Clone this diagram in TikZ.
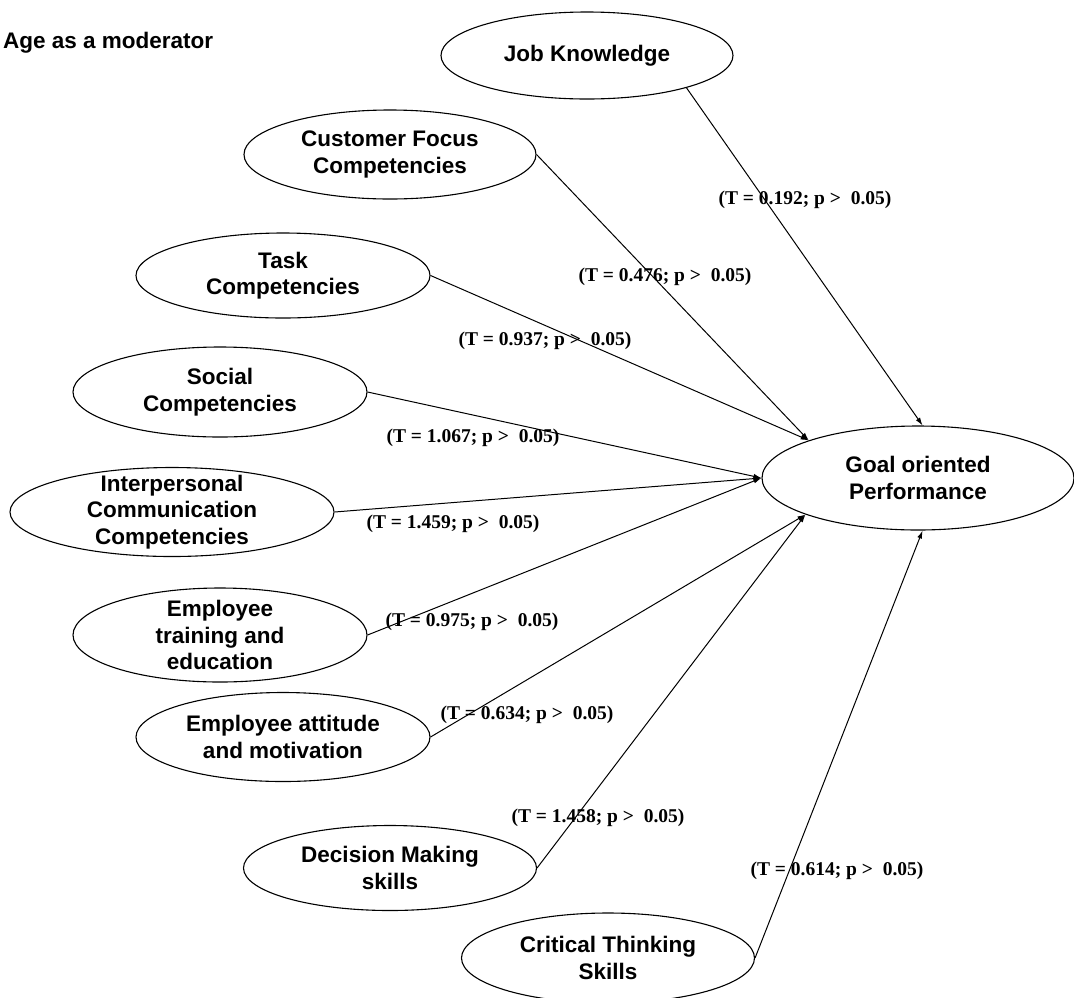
\documentclass[tikz,border=0pt]{standalone}
\usepackage{fontspec}
\setmainfont{Liberation Sans}
\newfontfamily\statfont{Liberation Serif}
\usetikzlibrary{shapes.geometric,arrows.meta}

% one construct: an outlined ellipse plus its centred caption
\newcommand\construct[5]{%
  \node[oval, minimum width=#4, minimum height=#5] (#1) at #2 {};
  \node[ovaltext] (#1-t) at (#1) {#3};
}

\begin{document}
\begin{tikzpicture}[x=1pt, y=-1pt,
  oval/.style={ellipse, draw, line width=1.1pt, inner sep=0pt},
  ovaltext/.style={align=center, inner sep=0pt,
    font=\fontsize{22.5}{26.5}\selectfont\bfseries},
  stat/.style={inner sep=0pt, font=\statfont\fontsize{19.5}{22}\selectfont\bfseries},
  link/.style={draw, line width=1pt, -{Latex[length=8pt, width=5pt]}}
]
\useasboundingbox (0,0) rectangle (1074,997);

\node[anchor=base west, inner sep=0pt, font=\fontsize{22.5}{26.5}\selectfont\bfseries]
  (title) at (3,48) {Age as a moderator};

% predictors
\construct{jk}{(587,55.5)}{Job Knowledge}{292pt}{87pt}
\construct{cf}{(390,154.5)}{Customer Focus\\Competencies}{292pt}{89pt}
\construct{task}{(283,275.5)}{Task\\Competencies}{294pt}{85pt}
\construct{soc}{(220,392)}{Social\\Competencies}{294pt}{90pt}
\construct{ip}{(172,512)}{Interpersonal\\Communication\\Competencies}{324pt}{89pt}
\construct{edu}{(220,635)}{Employee\\training and\\education}{294pt}{94pt}
\construct{att}{(283,737)}{Employee attitude\\and motivation}{294pt}{89pt}
\construct{dm}{(390,868)}{Decision Making\\skills}{293pt}{85pt}
\construct{ct}{(608,958)}{Critical Thinking\\Skills}{293pt}{90pt}

% outcome
\construct{goal}{(918,478)}{Goal oriented\\Performance}{312pt}{104pt}

% paths into the outcome
\draw[link] (jk.-18)   -- (goal.85);
\draw[link] (cf.east)  -- (goal.161.6);
\draw[link] (task.east)-- (goal.161.6);
\draw[link] (soc.east) -- (goal.west);
\draw[link] (ip.east)  -- (goal.west);
\draw[link] (edu.east) -- (goal.west);
\draw[link] (att.east) -- (goal.198.4);
\draw[link] (dm.east)  -- (goal.198.4);
\draw[link] (ct.east)  -- (goal.-85);

% path statistics
\node[stat] (s1) at (805,200) {(T = 0.192; p >\ \ 0.05)};
\node[stat] (s2) at (665,277) {(T = 0.476; p >\ \ 0.05)};
\node[stat] (s3) at (545,341) {(T = 0.937; p >\ \ 0.05)};
\node[stat] (s4) at (473,438) {(T = 1.067; p >\ \ 0.05)};
\node[stat] (s5) at (453,524) {(T = 1.459; p >\ \ 0.05)};
\node[stat] (s6) at (472,622) {(T = 0.975; p >\ \ 0.05)};
\node[stat] (s7) at (527,715) {(T = 0.634; p >\ \ 0.05)};
\node[stat] (s8) at (598,818) {(T = 1.458; p >\ \ 0.05)};
\node[stat] (s9) at (837,871) {(T = 0.614; p >\ \ 0.05)};
\end{tikzpicture}
\end{document}
